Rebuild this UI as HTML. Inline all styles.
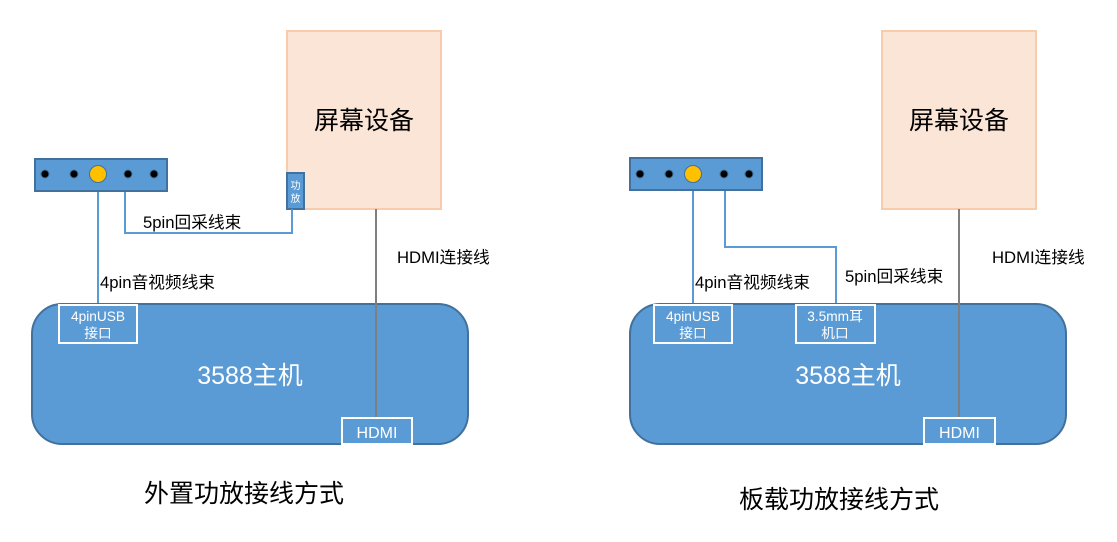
<!DOCTYPE html>
<html><head><meta charset="utf-8"><style>
html,body{margin:0;padding:0;background:#fff;}
svg{display:block;font-family:"Liberation Sans","Noto Sans CJK SC",sans-serif;}
</style></head><body>
<svg width="1117" height="542" viewBox="0 0 1117 542" xmlns="http://www.w3.org/2000/svg">
<!-- LEFT -->
<rect x="287" y="31" width="154" height="178" fill="#fbe5d6" stroke="#f8cbad" stroke-width="2"/>
<text x="364" y="129" font-size="25" text-anchor="middle" fill="#000">屏幕设备</text>
<rect x="287" y="173" width="17" height="36" fill="#5b9bd5" stroke="#41719c" stroke-width="2"/>
<text x="295.5" y="189" font-size="10" text-anchor="middle" fill="#fff">功</text>
<text x="295.5" y="202" font-size="10" text-anchor="middle" fill="#fff">放</text>
<polyline points="125,191 125,233 292,233 292,209" fill="none" stroke="#5b9bd5" stroke-width="2"/>
<line x1="98" y1="191" x2="98" y2="305" stroke="#5b9bd5" stroke-width="2"/>
<rect x="35" y="159" width="132" height="32" fill="#5b9bd5" stroke="#41719c" stroke-width="2"/>
<circle cx="45" cy="174" r="4" fill="#000" stroke="#41719c"/>
<circle cx="74" cy="174" r="4" fill="#000" stroke="#41719c"/>
<circle cx="98" cy="174" r="8.5" fill="#ffc000" stroke="#41719c"/>
<circle cx="128" cy="174" r="4" fill="#000" stroke="#41719c"/>
<circle cx="154" cy="174" r="4" fill="#000" stroke="#41719c"/>
<rect x="32" y="304" width="436" height="140" rx="30" fill="#5b9bd5" stroke="#41719c" stroke-width="2"/>
<line x1="376" y1="209" x2="376" y2="418" stroke="#7f7f7f" stroke-width="2"/>
<rect x="59" y="305" width="78" height="38" fill="#5b9bd5" stroke="#fff" stroke-width="2"/>
<text x="98" y="321" font-size="13.7" text-anchor="middle" fill="#fff">4pinUSB</text>
<text x="98" y="338" font-size="13.7" text-anchor="middle" fill="#fff">接口</text>
<rect x="342" y="418" width="70" height="26" fill="#5b9bd5" stroke="#fff" stroke-width="2"/>
<text x="377" y="438" font-size="16" text-anchor="middle" fill="#fff">HDMI</text>
<text x="250" y="384" font-size="25" text-anchor="middle" fill="#fff">3588主机</text>
<text x="143" y="228" font-size="16.7" fill="#000">5pin回采线束</text>
<text x="100" y="288" font-size="16.7" fill="#000">4pin音视频线束</text>
<text x="397" y="263" font-size="16.7" fill="#000">HDMI连接线</text>
<text x="244" y="502" font-size="25" text-anchor="middle" fill="#000">外置功放接线方式</text>

<!-- RIGHT -->
<rect x="882" y="31" width="154" height="178" fill="#fbe5d6" stroke="#f8cbad" stroke-width="2"/>
<text x="959" y="129" font-size="25" text-anchor="middle" fill="#000">屏幕设备</text>
<line x1="693" y1="190" x2="693" y2="305" stroke="#5b9bd5" stroke-width="2"/>
<polyline points="725,190 725,247 836,247 836,305" fill="none" stroke="#5b9bd5" stroke-width="2"/>
<rect x="630" y="158" width="132" height="32" fill="#5b9bd5" stroke="#41719c" stroke-width="2"/>
<circle cx="640" cy="174" r="4" fill="#000" stroke="#41719c"/>
<circle cx="669" cy="174" r="4" fill="#000" stroke="#41719c"/>
<circle cx="693" cy="174" r="8.5" fill="#ffc000" stroke="#41719c"/>
<circle cx="724" cy="174" r="4" fill="#000" stroke="#41719c"/>
<circle cx="749" cy="174" r="4" fill="#000" stroke="#41719c"/>
<rect x="630" y="304" width="436" height="140" rx="30" fill="#5b9bd5" stroke="#41719c" stroke-width="2"/>
<line x1="959" y1="209" x2="959" y2="418" stroke="#7f7f7f" stroke-width="2"/>
<rect x="654" y="305" width="78" height="38" fill="#5b9bd5" stroke="#fff" stroke-width="2"/>
<text x="693" y="321" font-size="13.7" text-anchor="middle" fill="#fff">4pinUSB</text>
<text x="693" y="338" font-size="13.7" text-anchor="middle" fill="#fff">接口</text>
<rect x="796" y="305" width="79" height="38" fill="#5b9bd5" stroke="#fff" stroke-width="2"/>
<text x="835" y="321" font-size="13.7" text-anchor="middle" fill="#fff">3.5mm耳</text>
<text x="835" y="338" font-size="13.7" text-anchor="middle" fill="#fff">机口</text>
<rect x="924" y="418" width="71" height="26" fill="#5b9bd5" stroke="#fff" stroke-width="2"/>
<text x="959.5" y="438" font-size="16" text-anchor="middle" fill="#fff">HDMI</text>
<text x="848" y="384" font-size="25" text-anchor="middle" fill="#fff">3588主机</text>
<text x="695" y="288" font-size="16.7" fill="#000">4pin音视频线束</text>
<text x="845" y="282" font-size="16.7" fill="#000">5pin回采线束</text>
<text x="992" y="263" font-size="16.7" fill="#000">HDMI连接线</text>
<text x="839" y="508" font-size="25" text-anchor="middle" fill="#000">板载功放接线方式</text>
</svg>
</body></html>
